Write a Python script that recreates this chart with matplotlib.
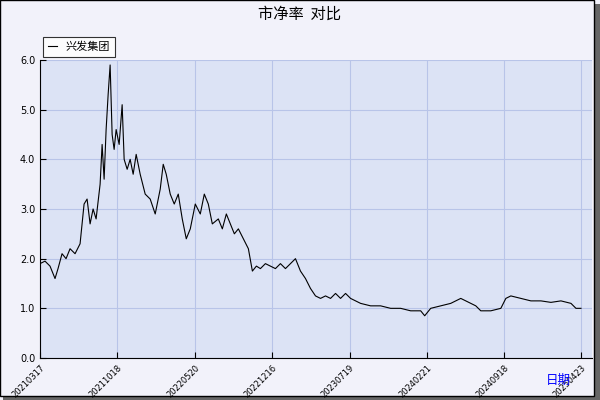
import matplotlib
matplotlib.use("Agg")
import matplotlib.pyplot as plt
from matplotlib.patches import Rectangle

plt.rcParams['font.family'] = ['Noto Sans CJK SC', 'DejaVu Sans']

t = [0,5,10,15,18,22,26,30,35,40,44,47,50,53,56,60,62,64,66,68,70,72,74,76,79,82,84,87,90,93,96,100,105,110,115,120,123,126,130,134,138,142,146,150,155,160,164,168,172,178,182,186,190,194,198,203,208,212,216,220,225,230,235,240,245,250,255,260,265,270,275,280,285,290,295,300,305,310,315,320,330,340,350,360,370,380,384,390,400,410,420,425,430,435,440,450,460,465,470,480,490,500,510,520,530,535,540]
v = [1.9,1.95,1.85,1.6,1.8,2.1,2.0,2.2,2.1,2.3,3.1,3.2,2.7,3.0,2.8,3.5,4.3,3.6,4.6,5.3,5.9,4.5,4.2,4.6,4.3,5.1,4.0,3.8,4.0,3.7,4.1,3.7,3.3,3.2,2.9,3.4,3.9,3.7,3.3,3.1,3.3,2.8,2.4,2.6,3.1,2.9,3.3,3.1,2.7,2.8,2.6,2.9,2.7,2.5,2.6,2.4,2.2,1.75,1.85,1.8,1.9,1.85,1.8,1.9,1.8,1.9,2.0,1.75,1.6,1.4,1.25,1.2,1.25,1.2,1.3,1.2,1.3,1.2,1.15,1.1,1.05,1.05,1.0,1.0,0.95,0.95,0.85,1.0,1.05,1.1,1.2,1.15,1.1,1.05,0.95,0.95,1.0,1.2,1.25,1.2,1.15,1.15,1.12,1.15,1.1,1.0,1.0]
xticks = [0,77,155,232,309,386,463,540]
xlabels = ['20210317','20211018','20220520','20221216','20230719','20240221','20240918','20250423']
yticks = [0,1,2,3,4,5,6]

fig = plt.figure(figsize=(6,4), dpi=100, facecolor='#f2f2fa')
fig.patches.append(Rectangle((0.005,0.0),0.995,0.99,transform=fig.transFigure,facecolor='#666666',edgecolor='none',zorder=-2))
fig.patches.append(Rectangle((0.0,0.01),0.99,0.99,transform=fig.transFigure,facecolor='#f2f2fa',edgecolor='black',lw=1,zorder=-1))
ax = fig.add_axes([40/600, 1-358/400, 552/600, 298/400])
ax.set_facecolor('#dce3f5')
ax.plot(t, v, color='black', lw=0.8)
ax.set_xlim(0, 551)
ax.set_ylim(0, 6)
ax.set_xticks(xticks)
ax.set_xticklabels(xlabels, rotation=45, ha='right', rotation_mode='anchor', fontsize=6, family='DejaVu Sans')
ax.set_yticks(yticks)
ax.set_yticklabels([f'{y:.1f}' for y in yticks], fontsize=7, family='DejaVu Sans')
ax.grid(True, color='#b8c4e8', lw=0.8)
for s in ['top','right']:
    ax.spines[s].set_visible(False)
ax.tick_params(direction='in', length=4)
fig.text(0.5, 0.965, '市净率  对比', ha='center', va='center', fontsize=11)
fig.text(0.93, 0.04, '日期', color='blue', fontsize=9, ha='center')
leg = ax.legend(['兴发集团'], loc='lower left', bbox_to_anchor=(0, 1.0), fontsize=8, frameon=True, fancybox=False, handlelength=0.8, borderaxespad=0.3)
leg.get_frame().set_edgecolor('black')
leg.get_frame().set_facecolor('white')
leg.get_frame().set_linewidth(0.8)
fig.savefig('out.png', dpi=100, facecolor=fig.get_facecolor())
